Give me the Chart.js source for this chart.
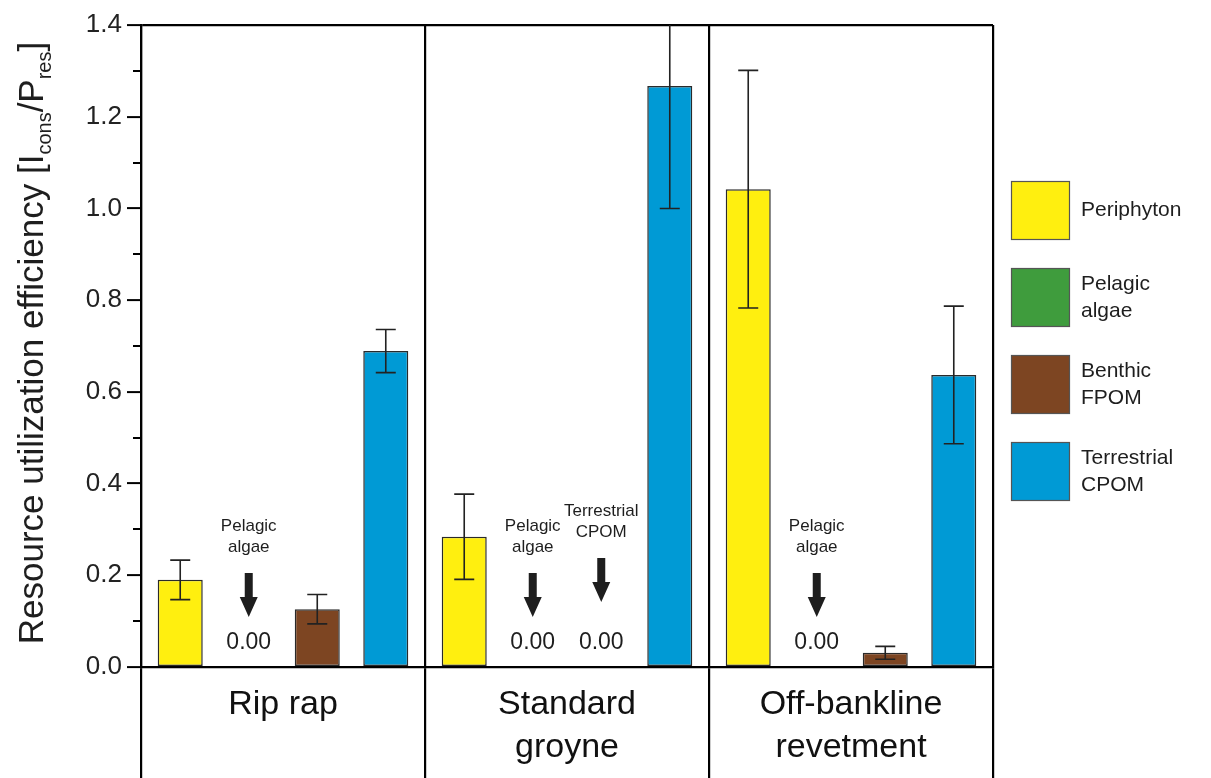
<!DOCTYPE html>
<html>
<head>
<meta charset="utf-8">
<script src="https://cdn.jsdelivr.net/npm/chart.js@4.4.1/dist/chart.umd.min.js"></script>
<style>
  html, body { margin: 0; padding: 0; background: #ffffff; }
  #wrap { width: 1211px; height: 778px; position: relative; }
</style>
</head>
<body>
<div id="wrap"><canvas id="c" width="1211" height="778"></canvas></div>
<script>
// ---- data ----
const categories = [['Rip rap'], ['Standard', 'groyne'], ['Off-bankline', 'revetment']];
const seriesNames = ['Periphyton', 'Pelagic algae', 'Benthic FPOM', 'Terrestrial CPOM'];
const seriesColors = ['#FFEF0F', '#3F9C3D', '#7D4522', '#009AD5'];

const periphyton      = [0.190, 0.284, 1.042];
const periphytonErr   = [0.043, 0.093, 0.259];
const pelagicAlgae    = [0.00, 0.00, 0.00];
const pelagicAlgaeErr = [0, 0, 0];
const benthicFPOM     = [0.126, 0.00, 0.031];
const benthicFPOMErr  = [0.032, 0, 0.014];
const terrestrialCPOM    = [0.689, 1.267, 0.637];
const terrestrialCPOMErr = [0.047, 0.267, 0.150];

const yMin = 0, yMax = 1.4, yStep = 0.2;
const yMinorTicks = [0.1, 0.3, 0.5, 0.7, 0.9, 1.1, 1.3];

// annotations for bars whose value is zero: category index, dataset index, caption
const zeroNotes = [
  { cat: 0, ds: 1, text: ['Pelagic', 'algae'] },
  { cat: 1, ds: 1, text: ['Pelagic', 'algae'] },
  { cat: 1, ds: 2, text: ['Terrestrial', 'CPOM'], lift: 15 },
  { cat: 2, ds: 1, text: ['Pelagic', 'algae'] }
];

const FONT = "'Liberation Sans', Arial, Helvetica, sans-serif";
const INK = '#1e1e1e';

const seriesValues = [periphyton, pelagicAlgae, benthicFPOM, terrestrialCPOM];
const seriesErrors = [periphytonErr, pelagicAlgaeErr, benthicFPOMErr, terrestrialCPOMErr];

const datasets = seriesNames.map((name, i) => ({
  label: name,
  data: seriesValues[i],
  errors: seriesErrors[i],
  backgroundColor: seriesColors[i],
  borderColor: '#2a2a2a',
  borderWidth: 1.5,
  borderSkipped: false,
  barPercentage: 0.657,
  categoryPercentage: 0.965
}));

// error bars drawn from each bar element and the y scale
const errorBars = {
  id: 'errorBars',
  afterDatasetsDraw(chart) {
    const { ctx, chartArea, scales: { y } } = chart;
    ctx.save();
    ctx.beginPath();
    ctx.rect(chartArea.left, chartArea.top, chartArea.right - chartArea.left, chartArea.bottom - chartArea.top);
    ctx.clip();
    ctx.strokeStyle = '#222';
    ctx.lineWidth = 1.6;
    chart.data.datasets.forEach((ds, di) => {
      const meta = chart.getDatasetMeta(di);
      meta.data.forEach((bar, i) => {
        const e = ds.errors[i];
        if (!e) return;
        const v = ds.data[i];
        const yt = y.getPixelForValue(v + e);
        const yb = y.getPixelForValue(v - e);
        const half = 10;
        ctx.beginPath();
        ctx.moveTo(bar.x, yt); ctx.lineTo(bar.x, yb);
        ctx.moveTo(bar.x - half, yt); ctx.lineTo(bar.x + half, yt);
        ctx.moveTo(bar.x - half, yb); ctx.lineTo(bar.x + half, yb);
        ctx.stroke();
      });
    });
    ctx.restore();
  }
};

// minor ticks on the y axis
const minorTicks = {
  id: 'minorTicks',
  afterDraw(chart) {
    const { ctx, chartArea, scales: { y } } = chart;
    ctx.save();
    ctx.strokeStyle = '#000';
    ctx.lineWidth = 2;
    yMinorTicks.forEach(v => {
      const py = Math.round(y.getPixelForValue(v));
      ctx.beginPath();
      ctx.moveTo(chartArea.left - 8, py);
      ctx.lineTo(chartArea.left, py);
      ctx.stroke();
    });
    ctx.restore();
  }
};

// captions, arrows and value labels over zero-height bars
const zeroNotesPlugin = {
  id: 'zeroNotes',
  afterDatasetsDraw(chart) {
    const { ctx, scales: { y } } = chart;
    ctx.save();
    ctx.fillStyle = INK;
    ctx.textAlign = 'center';
    ctx.textBaseline = 'middle';
    zeroNotes.forEach(n => {
      const bar = chart.getDatasetMeta(n.ds).data[n.cat];
      const value = chart.data.datasets[n.ds].data[n.cat];
      const x = bar.x;
      const base = y.getPixelForValue(value);
      const lift = n.lift || 0;
      // value label
      ctx.font = '23px ' + FONT;
      ctx.fillText(value.toFixed(2), x, base - 24);
      // arrow
      const top = base - 94 - lift;
      const tip = base - 50 - lift;
      const headH = 20, headW = 9, shaftW = 4;
      ctx.beginPath();
      ctx.moveTo(x - shaftW, top);
      ctx.lineTo(x + shaftW, top);
      ctx.lineTo(x + shaftW, tip - headH);
      ctx.lineTo(x + headW, tip - headH);
      ctx.lineTo(x, tip);
      ctx.lineTo(x - headW, tip - headH);
      ctx.lineTo(x - shaftW, tip - headH);
      ctx.closePath();
      ctx.fill();
      // caption
      ctx.font = '17px ' + FONT;
      const lh = 21;
      n.text.forEach((line, k) => {
        ctx.fillText(line, x, base - 141 - lift + k * lh);
      });
    });
    ctx.restore();
  }
};

// legend on the right, built from the datasets
const sideLegend = {
  id: 'sideLegend',
  afterDraw(chart) {
    const { ctx } = chart;
    const bx = 1011, box = 59, top0 = 181, gap = 87;
    ctx.save();
    ctx.textAlign = 'left';
    ctx.textBaseline = 'middle';
    ctx.font = '21px ' + FONT;
    chart.data.datasets.forEach((ds, i) => {
      const by = top0 + i * gap;
      ctx.fillStyle = ds.backgroundColor;
      ctx.fillRect(bx, by, box, box);
      ctx.strokeStyle = '#555';
      ctx.lineWidth = 1.2;
      ctx.strokeRect(bx + 0.5, by + 0.5, box - 1, box - 1);
      const lines = ds.label.split(' ');
      const lh = 27;
      const cy = by + box / 2;
      ctx.fillStyle = INK;
      lines.forEach((line, k) => {
        ctx.fillText(line, 1081, cy - (lines.length - 1) * lh / 2 + k * lh);
      });
    });
    ctx.restore();
  }
};

// rotated y-axis title with subscripts
const yTitle = {
  id: 'yTitle',
  afterDraw(chart) {
    const { ctx, chartArea } = chart;
    const parts = [
      { t: 'Resource utilization efficiency [I', s: 35, dy: 0 },
      { t: 'cons', s: 20, dy: 8 },
      { t: '/P', s: 35, dy: 0 },
      { t: 'res', s: 20, dy: 8 },
      { t: ']', s: 35, dy: 0 }
    ];
    ctx.save();
    ctx.translate(43, (chartArea.top + chartArea.bottom) / 2 - 3);
    ctx.rotate(-Math.PI / 2);
    ctx.fillStyle = INK;
    ctx.textBaseline = 'alphabetic';
    ctx.textAlign = 'left';
    let total = 0;
    parts.forEach(p => { ctx.font = p.s + 'px ' + FONT; p.w = ctx.measureText(p.t).width; total += p.w; });
    let x = -total / 2;
    parts.forEach(p => {
      ctx.font = p.s + 'px ' + FONT;
      ctx.fillText(p.t, x, p.dy);
      x += p.w;
    });
    ctx.restore();
  }
};

new Chart(document.getElementById('c'), {
  type: 'bar',
  data: { labels: categories, datasets },
  options: {
    responsive: false,
    animation: false,
    devicePixelRatio: 1,
    layout: { padding: { top: 25, right: 218, left: 0, bottom: 0 } },
    plugins: { legend: { display: false }, tooltip: { enabled: false } },
    scales: {
      x: {
        offset: true,
        grid: {
          offset: true,
          display: true,
          drawOnChartArea: true,
          drawTicks: true,
          tickLength: 111,
          color: '#000',
          tickColor: '#000',
          lineWidth: 2.2,
          tickWidth: 2.2
        },
        border: { display: true, color: '#000', width: 2.2 },
        ticks: {
          padding: -94,
          color: '#111',
          font: { family: FONT, size: 34, lineHeight: 1.24 },
          maxRotation: 0,
          autoSkip: false
        },
        afterFit(scale) { scale.height = 111; }
      },
      y: {
        min: yMin,
        max: yMax,
        ticks: {
          stepSize: yStep,
          padding: 5,
          color: '#222',
          font: { family: FONT, size: 26 },
          callback: v => Number(v).toFixed(1)
        },
        grid: {
          drawTicks: true,
          tickLength: 14,
          tickColor: '#000',
          tickWidth: 2,
          lineWidth: 2.2,
          color: ctx => (ctx.tick && Math.abs(ctx.tick.value - yMax) < 1e-9) ? '#000' : 'rgba(0,0,0,0)'
        },
        border: { display: true, color: '#000', width: 2.2 },
        afterFit(scale) { scale.width = 141; }
      }
    }
  },
  plugins: [errorBars, zeroNotesPlugin, minorTicks, sideLegend, yTitle]
});
</script>
</body>
</html>
